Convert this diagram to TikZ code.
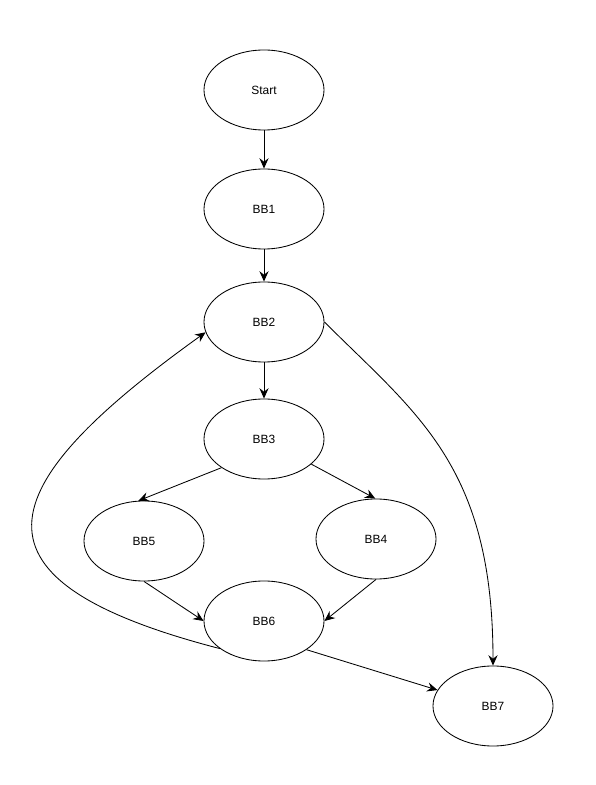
\documentclass[tikz,border=0pt]{standalone}
\usepackage{fontspec}
\setmainfont{Liberation Sans}
\usetikzlibrary{shapes.geometric,arrows.meta}

\tikzset{
  block/.style={draw,ellipse,fill=white,minimum width=3cm,minimum height=2cm,inner sep=0pt,
    line width=0.6pt,font=\fontsize{8.5}{10}\selectfont},
  flow/.style={->,line width=0.6pt}
}

\begin{document}
\begin{tikzpicture}[x={(0.025cm,0cm)}, y={(0cm,0.025cm)}, >={Stealth[length=2.6mm,width=2.3mm,inset=0.9mm]}]
  \useasboundingbox (0,0) rectangle (595,785);
  % Nodes
  \node[block] (Start) at (264,695) {Start};
  \node[block] (BB1) at (264,576) {BB1};
  \node[block] (BB2) at (264,463) {BB2};
  \node[block] (BB3) at (264,346) {BB3};
  \node[block] (BB5) at (144,244) {BB5};
  \node[block] (BB4) at (376,246) {BB4};
  \node[block] (BB6) at (264,164) {BB6};
  \node[block] (BB7) at (493,79) {BB7};

  % Edges
  \draw[flow] (Start) -- (BB1);
  \draw[flow] (BB1) -- (BB2);
  \draw[flow] (BB2) -- (BB3);
  \draw[flow] (BB3.214) -- (BB5.98);
  \draw[flow] (BB3.332) -- (BB4.91);
  \draw[flow] (BB5.south) -- (BB6.west);
  \draw[flow] (BB4.south) -- (BB6.east);
  \draw[flow] (BB6.326) -- (BB7.164);

  % Back edge and exit
  \draw[flow] (BB6.212) .. controls +(-262,68) and +(-219,-157) .. (BB2.190);
  \draw[flow] (BB2.east) .. controls +(92,-92) and +(0,200) .. (BB7.north);
\end{tikzpicture}
\end{document}
